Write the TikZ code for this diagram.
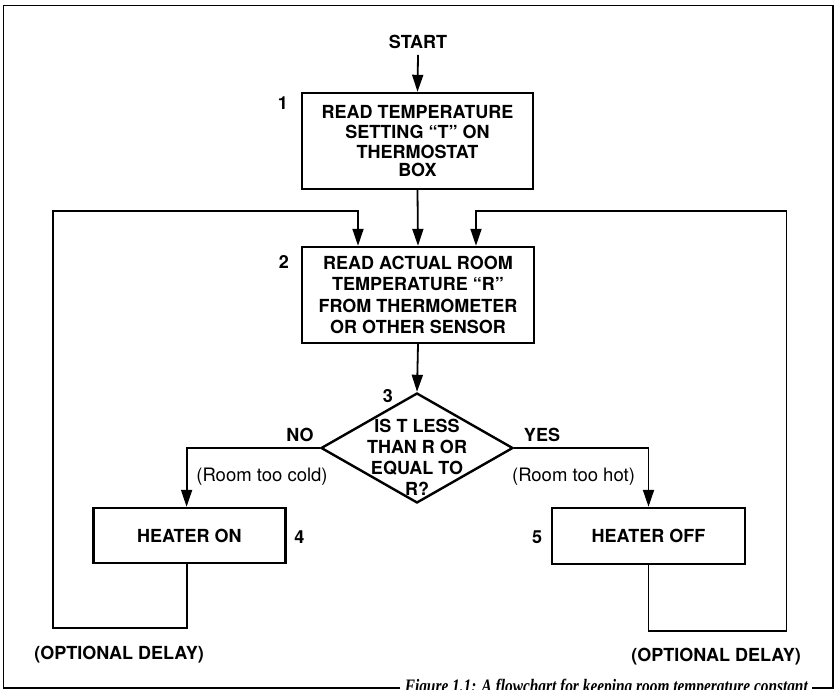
\documentclass[tikz,border=0pt]{standalone}
\usepackage{fontspec}
\setmainfont{TeX Gyre Heros}
\newfontfamily\capfont{Liberation Serif}
\usetikzlibrary{arrows.meta,shapes.geometric}

\tikzset{
  lbl/.style={font=\fontsize{18}{21}\selectfont\bfseries, inner sep=0pt},
  note/.style={font=\fontsize{18.5}{21}\selectfont, inner sep=0pt},
  stepbox/.style={draw, line width=2.4pt, inner sep=0pt, align=center,
    font=\fontsize{18}{21}\selectfont\bfseries},
  decision/.style={diamond, draw, line width=2.4pt, inner sep=0pt,
    minimum width=192pt, minimum height=110pt},
  arr/.style={line width=1.8pt, -{Triangle[length=17pt,width=11pt]}},
}

\begin{document}
\begin{tikzpicture}[x=1pt,y=-1pt]
\useasboundingbox (0,0) rectangle (836,690);
\clip (0,0) rectangle (836,690);

% outer frame, broken at the bottom by the caption
\draw[line width=1.6pt] (400,688) -- (3.5,688) -- (3.5,5.5) -- (833,5.5) -- (833,688) -- (812,688);
\node[anchor=base east, inner sep=0pt] (caption) at (808,692)
  {\resizebox{403pt}{\height}{\capfont\fontsize{19}{22}\selectfont\bfseries\itshape
   Figure 1.1: A flowchart for keeping room temperature constant}};

% steps
\node[lbl] (start) at (418,42) {START};
\node[stepbox, minimum width=231pt, minimum height=96pt] (b1) at (417.5,141)
  {READ TEMPERATURE\\[-0.5pt]SETTING ``T'' ON\\[-1pt]THERMOSTAT\\[-3.5pt]BOX};
\node[stepbox, minimum width=232pt, minimum height=96pt] (b2) at (418,295)
  {READ ACTUAL ROOM\\[0.5pt]TEMPERATURE ``R''\\[0.5pt]FROM THERMOMETER\\[0.5pt]OR OTHER SENSOR};
\node[decision] (d) at (417,448) {};
\node[align=center, inner sep=0pt, font=\fontsize{18}{21}\selectfont\bfseries] (dtext) at (417,457)
  {IS T LESS\\THAN R OR\\EQUAL TO\\R?};
\node[stepbox, minimum width=192pt, minimum height=55pt] (hon) at (189.3,535.5) {HEATER ON};
\node[stepbox, minimum width=193pt, minimum height=56pt] (hoff) at (648.5,536) {HEATER OFF};

% step numbers
\node[lbl] (n1) at (283,103) {1};
\node[lbl] (n2) at (284,262) {2};
\node[lbl] (n3) at (388,396) {3};
\node[lbl] (n4) at (299.5,537) {4};
\node[lbl] (n5) at (537,537) {5};

% branch labels
\node[lbl] (no) at (300,435) {NO};
\node[lbl] (yes) at (542,435) {YES};
\node[note] (cold) at (262,477) {(Room too cold)};
\node[note] (hot) at (573.5,477) {(Room too hot)};
\node[lbl] (dl) at (119,655) {(OPTIONAL DELAY)};
\node[lbl] (dr) at (716,657) {(OPTIONAL DELAY)};

% loop corners
\coordinate (lc1) at (53.3,628);
\coordinate (lc2) at (53.3,211);
\coordinate (rc1) at (786.5,631);
\coordinate (rc2) at (786.5,211);

% main flow
\draw[arr] (start.south) ++(0,6) -- (b1.north);
\draw[arr] (b1.south) -- (b2.north);
\draw[arr] (b2.south) -- (d.north);
\draw[arr] (d.west) -| ([xshift=-2.7pt]hon.north);
\draw[arr] (d.east) -| (hoff.north);

% return loops
\draw[arr] ([xshift=-2.7pt]hon.south) |- (lc1) -- (lc2) -| ([xshift=-60pt]b2.north);
\draw[arr] (hoff.south) |- (rc1) -- (rc2) -| ([xshift=58pt]b2.north);
\end{tikzpicture}
\end{document}
